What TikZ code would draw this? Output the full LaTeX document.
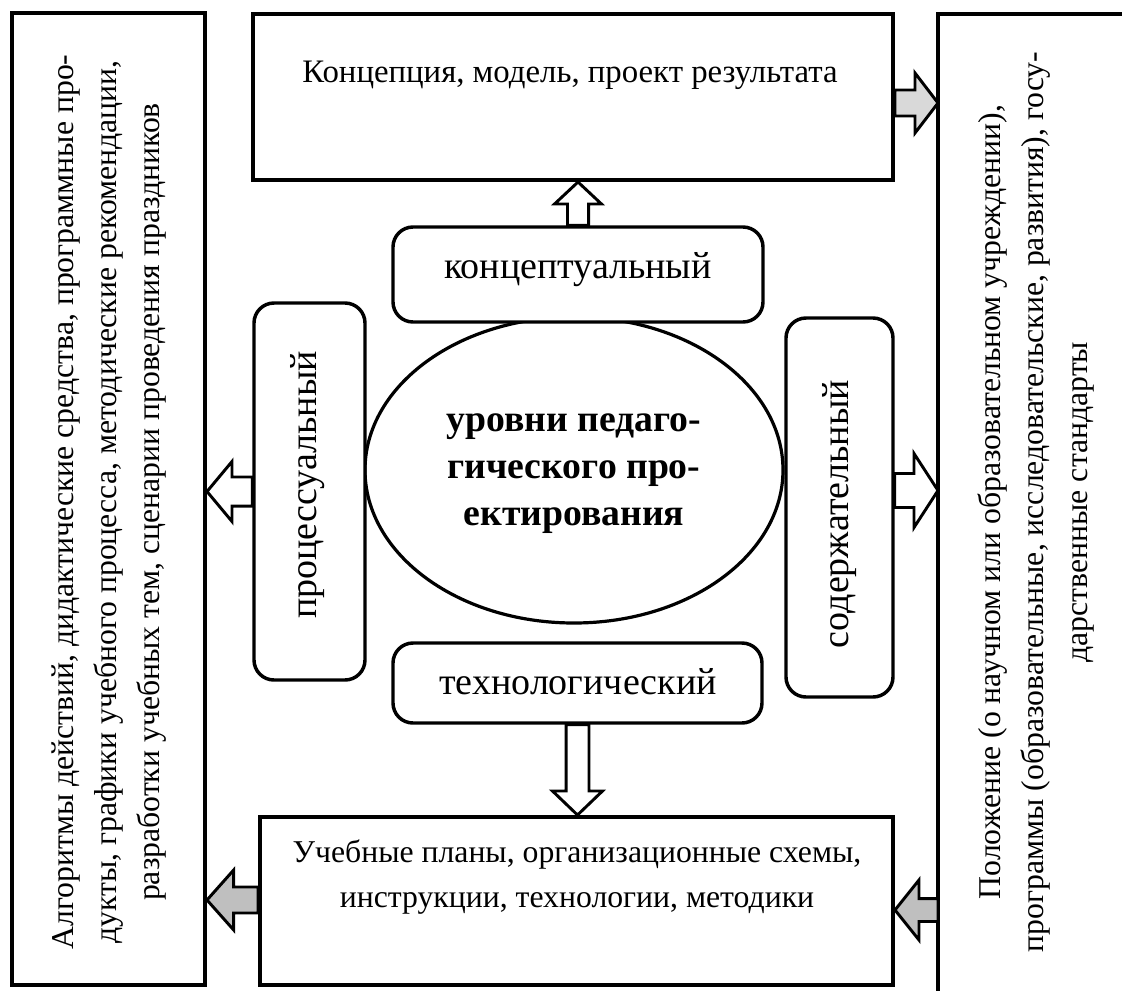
\documentclass[tikz,border=0pt]{standalone}
\usepackage{fontspec}
\setmainfont{Liberation Serif}
\usetikzlibrary{calc,shapes.geometric}
\tikzset{
  box/.style={draw, line width=3pt, inner sep=0pt, fill=white},
  rbox/.style={box, line width=2.6pt, rounded corners=15pt},
  barrow/.style={draw, line width=2.2pt, line join=miter, miter limit=20},
  bigtxt/.style={font=\fontsize{23.8}{32.3}\selectfont, align=center, inner sep=0pt},
  midtxt/.style={font=\fontsize{28.5}{34}\selectfont, inner sep=0pt},
}
% [fill]{from}{to}{shaft half}{head half}{head length}  (pt)
\newcommand\blockarrow[6][white]{%
  \draw[barrow, fill=#1] let \p1=(#2), \p2=(#3),
    \n1={veclen(\x2-\x1,\y2-\y1)},
    \n2={(\x2-\x1)/\n1}, \n3={(\y2-\y1)/\n1}
  in ({\x1-\n3*#4},{\y1+\n2*#4})
  -- ({\x2-\n2*#6-\n3*#4},{\y2-\n3*#6+\n2*#4})
  -- ({\x2-\n2*#6-\n3*#5},{\y2-\n3*#6+\n2*#5})
  -- (\p2)
  -- ({\x2-\n2*#6+\n3*#5},{\y2-\n3*#6-\n2*#5})
  -- ({\x2-\n2*#6+\n3*#4},{\y2-\n3*#6-\n2*#4})
  -- ({\x1+\n3*#4},{\y1-\n2*#4}) -- cycle;}
\begin{document}
\begin{tikzpicture}[x=0.75pt, y=-0.75pt]
\useasboundingbox (0,0) rectangle (1122,990);
% outer boxes
\node[box, minimum width=144.75pt, minimum height=729pt] (leftbox) at (108.5,499) {};
\node[box, minimum width=480pt, minimum height=124.5pt] (topbox) at (573,97) {};
\node[box, minimum width=474.75pt, minimum height=126pt] (bottombox) at (576.5,901) {};
\node[inner sep=0pt, minimum width=150pt, minimum height=760pt, anchor=north west] (rightbox) at (938,14) {};
\draw[line width=3pt] ([yshift=-10pt]rightbox.south west) -- (rightbox.north west) -- ([xshift=10pt]rightbox.north east);
% centre
\node[draw, ellipse, line width=2.4pt, minimum width=313.5pt, minimum height=229.5pt] (core) at (574,470) {};
\node[rbox, minimum width=277.5pt, minimum height=71.25pt] (concept) at (578,274.5) {};
\node[rbox, minimum width=276.75pt, minimum height=60pt] (tech) at (577.5,683) {};
\node[rbox, minimum width=83.25pt, minimum height=282.75pt] (process) at (309.5,491.5) {};
\node[rbox, minimum width=80.25pt, minimum height=284.25pt] (content) at (839.5,507.5) {};
% texts
\node[bigtxt, font=\fontsize{24.6}{30}\selectfont] (toptext) at (570,75) {Концепция, модель, проект результата};
\node[bigtxt, font=\fontsize{23.8}{33.8}\selectfont] (bottomtext) at (577,877) {Учебные планы, организационные схемы,\\инструкции, технологии, методики};
\node[midtxt] (concepttext) at (578,270) {концептуальный};
\node[midtxt] (techtext) at (578,682) {технологический};
\node[midtxt, rotate=90] (processtext) at (308,485) {процессуальный};
\node[midtxt, rotate=90] (contenttext) at (840,514) {содержательный};
\node[align=center, inner sep=0pt, font=\fontsize{28.3}{35.3}\selectfont\bfseries] (coretext) at (574,474) {уровни педаго-\\гического про-\\ектирования};
\node[bigtxt, rotate=90] (lefttext) at (109,502) {Алгоритмы действий, дидактические средства, программные про-\\дукты, графики учебного процесса, методические рекомендации,\\разработки учебных тем, сценарии проведения праздников};
\node[bigtxt, rotate=90] (righttext) at (1036,502) {Положение (о научном или образовательном учреждении),\\программы (образовательные, исследовательские, развития), госу-\\дарственные стандарты};
% arrows
\coordinate (p4) at ($(content.east)+(0,-17)$);
\coordinate (p5) at ($(topbox.east)+(0,6)$);
\coordinate (p6) at ($(bottombox.east)+(0,9)$);
\coordinate (p7) at ($(bottombox.west)+(0,-1)$);
\blockarrow{concept.north}{concept.north |- topbox.south}{7.9}{17.6}{16.5}
\blockarrow{tech.south}{tech.south |- bottombox.north}{8.6}{18.75}{18}
\blockarrow{process.west}{process.west -| leftbox.east}{10.9}{22.5}{18.75}
\blockarrow{p4}{p4 -| rightbox.west}{12.75}{27.75}{18}
\blockarrow[gray!30]{p5}{p5 -| rightbox.west}{9.75}{22.5}{17.25}
\blockarrow[gray!50]{p6 -| rightbox.west}{p6}{8.6}{22.5}{18}
\blockarrow[gray!50]{p7}{p7 -| leftbox.east}{9.75}{22.5}{20}
\end{tikzpicture}
\end{document}
